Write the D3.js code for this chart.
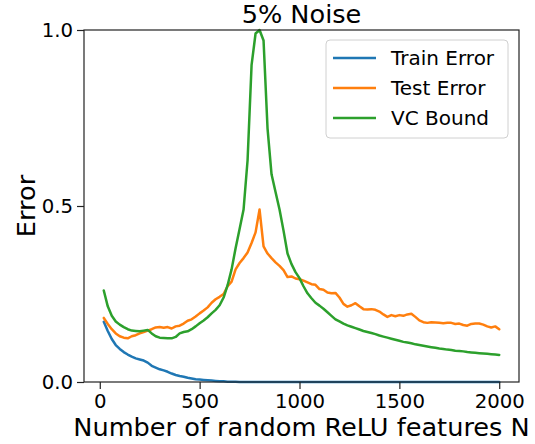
<!DOCTYPE html>
<html>
<head>
<meta charset="utf-8">
<script src="https://cdn.jsdelivr.net/npm/d3@7"></script>
<style>
  body { margin: 0; background: #fff; }
  svg { font-family: "DejaVu Sans", sans-serif; }
</style>
</head>
<body>
<svg width="535" height="444"></svg>
<script>
// x values: number of random ReLU features
let features = [];
for (let n = 20; n <= 2000; n += 20) features.push(n);

let trainError = [
  0.171, 0.145, 0.122, 0.105, 0.094, 0.085, 0.078, 0.072, 0.067, 0.064,
  0.061, 0.055, 0.046, 0.041, 0.036, 0.033, 0.029, 0.024, 0.020, 0.017,
  0.015, 0.012, 0.010, 0.008, 0.007, 0.006, 0.005, 0.004, 0.003, 0.002,
  0.002, 0.001, 0.001, 0.0005, 0, 0, 0, 0, 0, 0,
  0, 0, 0, 0, 0, 0, 0, 0, 0, 0,
  0, 0, 0, 0, 0, 0, 0, 0, 0, 0,
  0, 0, 0, 0, 0, 0, 0, 0, 0, 0,
  0, 0, 0, 0, 0, 0, 0, 0, 0, 0,
  0, 0, 0, 0, 0, 0, 0, 0, 0, 0,
  0, 0, 0, 0, 0, 0, 0, 0, 0, 0
];

let testError = [
  0.182, 0.165, 0.150, 0.138, 0.130, 0.126, 0.124, 0.130, 0.133, 0.138,
  0.142, 0.146, 0.150, 0.155, 0.156, 0.154, 0.156, 0.152, 0.158, 0.160,
  0.166, 0.174, 0.178, 0.186, 0.195, 0.203, 0.212, 0.225, 0.235, 0.242,
  0.250, 0.272, 0.285, 0.320, 0.338, 0.352, 0.368, 0.395, 0.425, 0.490,
  0.385, 0.365, 0.352, 0.340, 0.330, 0.318, 0.298, 0.300, 0.294, 0.292,
  0.288, 0.283, 0.278, 0.276, 0.264, 0.262, 0.254, 0.252, 0.253, 0.240,
  0.222, 0.214, 0.218, 0.224, 0.215, 0.207, 0.206, 0.207, 0.205, 0.200,
  0.192, 0.185, 0.190, 0.187, 0.190, 0.188, 0.192, 0.194, 0.185, 0.175,
  0.170, 0.168, 0.170, 0.169, 0.168, 0.167, 0.168, 0.168, 0.165, 0.166,
  0.162, 0.160, 0.165, 0.166, 0.166, 0.163, 0.158, 0.155, 0.158, 0.150
];

let vcBound = [
  0.260, 0.215, 0.188, 0.172, 0.163, 0.156, 0.150, 0.146, 0.145, 0.144,
  0.146, 0.148, 0.138, 0.130, 0.126, 0.125, 0.124, 0.124, 0.128, 0.138,
  0.142, 0.144, 0.150, 0.158, 0.167, 0.175, 0.184, 0.195, 0.205, 0.218,
  0.240, 0.275, 0.320, 0.380, 0.435, 0.490, 0.630, 0.900, 0.990, 1.000,
  0.970, 0.720, 0.590, 0.540, 0.490, 0.430, 0.365, 0.335, 0.312, 0.295,
  0.272, 0.252, 0.238, 0.225, 0.217, 0.208, 0.198, 0.188, 0.178, 0.172,
  0.166, 0.161, 0.157, 0.153, 0.149, 0.145, 0.142, 0.139, 0.136, 0.132,
  0.129, 0.126, 0.123, 0.120, 0.117, 0.114, 0.112, 0.110, 0.107, 0.105,
  0.103, 0.101, 0.099, 0.097, 0.095, 0.094, 0.092, 0.091, 0.089, 0.088,
  0.087, 0.085, 0.084, 0.083, 0.082, 0.081, 0.080, 0.079, 0.078, 0.077
];

let seriesNames = ["Train Error", "Test Error", "VC Bound"];
let seriesColors = ["#1f77b4", "#ff7f0e", "#2ca02c"];
let xTicks = [0, 500, 1000, 1500, 2000];
let yTicks = [0, 0.5, 1.0];

let svg = d3.select("svg");
let plotLeft = 84, plotRight = 519, plotTop = 30, plotBottom = 382;

let x = d3.scaleLinear().domain([-79, 2099]).range([plotLeft, plotRight]);
let y = d3.scaleLinear().domain([0, 1]).range([plotBottom, plotTop]);

svg.append("defs").append("clipPath").attr("id", "clip")
  .append("rect")
  .attr("x", plotLeft).attr("y", plotTop - 2)
  .attr("width", plotRight - plotLeft).attr("height", plotBottom - plotTop + 4);

// lines
let allSeries = [trainError, testError, vcBound];
let line = d3.line()
  .x(function (d, i) { return x(features[i]); })
  .y(function (d) { return y(d); });

svg.append("g")
  .attr("clip-path", "url(#clip)")
  .selectAll("path")
  .data(allSeries)
  .enter().append("path")
  .attr("d", line)
  .attr("fill", "none")
  .attr("stroke", function (d, i) { return seriesColors[i]; })
  .attr("stroke-width", 2.5)
  .attr("stroke-linejoin", "round")
  .attr("stroke-linecap", "round");

// axes
let xAxis = svg.append("g")
  .attr("transform", "translate(0," + plotBottom + ")")
  .call(d3.axisBottom(x).tickValues(xTicks).tickSize(7).tickPadding(5).tickFormat(d3.format("d")));

let yAxis = svg.append("g")
  .attr("transform", "translate(" + plotLeft + ",0)")
  .call(d3.axisLeft(y).tickValues(yTicks).tickSize(7).tickPadding(4).tickFormat(d3.format(".1f")));

[xAxis, yAxis].forEach(function (a) {
  a.select(".domain").remove();
  a.selectAll("text").attr("font-size", 19.7).attr("fill", "#000")
    .attr("font-family", "DejaVu Sans, sans-serif");
  a.selectAll("line").attr("stroke", "#222").attr("stroke-width", 1.2);
});

// frame
svg.append("rect")
  .attr("x", plotLeft).attr("y", plotTop)
  .attr("width", plotRight - plotLeft).attr("height", plotBottom - plotTop)
  .attr("fill", "none").attr("stroke", "#222").attr("stroke-width", 1.2);

// title and labels
svg.append("text")
  .attr("x", (plotLeft + plotRight) / 2).attr("y", 23)
  .attr("text-anchor", "middle").attr("font-size", 25.6)
  .text("5% Noise");

svg.append("text")
  .attr("x", (plotLeft + plotRight) / 2).attr("y", 436)
  .attr("text-anchor", "middle").attr("font-size", 25.6)
  .text("Number of random ReLU features N");

svg.append("text")
  .attr("transform", "translate(35," + (plotTop + plotBottom) / 2 + ") rotate(-90)")
  .attr("text-anchor", "middle").attr("font-size", 25.6)
  .text("Error");

// legend
let legend = svg.append("g");
legend.append("rect")
  .attr("x", 326).attr("y", 40).attr("width", 182).attr("height", 98)
  .attr("rx", 4).attr("fill", "#fff").attr("fill-opacity", 0.8)
  .attr("stroke", "#d0d0d0").attr("stroke-width", 1);

let item = legend.selectAll("g.item")
  .data(seriesNames)
  .enter().append("g")
  .attr("class", "item")
  .attr("transform", function (d, i) { return "translate(0," + (58 + i * 30) + ")"; });

item.append("line")
  .attr("x1", 333).attr("x2", 376)
  .attr("stroke", function (d, i) { return seriesColors[i]; })
  .attr("stroke-width", 2.5);

item.append("text")
  .attr("x", 391).attr("dy", "0.36em")
  .attr("font-size", 20)
  .text(function (d) { return d; });
</script>
</body>
</html>
